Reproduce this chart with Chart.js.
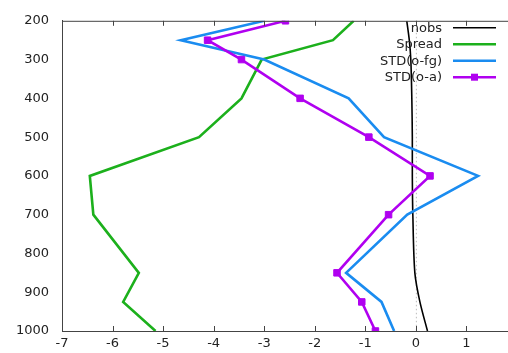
<!DOCTYPE html>
<html>
<head>
<meta charset="utf-8">
<script src="https://cdn.jsdelivr.net/npm/chart.js@4/dist/chart.umd.min.js"></script>
<style>
  body { margin: 0; background: #fff; overflow: hidden; }
  #wrap { width: 508px; height: 353px; overflow: hidden; }
</style>
</head>
<body>
<div id="wrap"><canvas id="profile" width="516" height="353"></canvas></div>
<script>
// pressure levels (hPa)
const levels = [200, 250, 300, 400, 500, 600, 700, 850, 925, 1000];
const nobs = [-0.18, -0.13, -0.1, -0.08, -0.07, -0.07, -0.06, -0.02, 0.08, 0.23];
const spread = [-1.23, -1.64, -3.05, -3.45, -4.29, -6.45, -6.38, -5.48, -5.79, -5.15];
const stdOfg = [-3.0, -4.65, -3.0, -1.33, -0.63, 1.23, -0.17, -1.38, -0.68, -0.43];
const stdOa = [-2.58, -4.12, -3.45, -2.29, -0.93, 0.28, -0.54, -1.56, -1.07, -0.8];
const xTicks = [-7, -6, -5, -4, -3, -2, -1, 0, 1];

const FONT = "DejaVu Sans";

function pts(vals) {
  return vals.map((v, i) => ({ x: v, y: levels[i] }));
}

// zero line, inward ticks, top border and gnuplot-like legend
const frame = {
  id: "frame",
  beforeDatasetsDraw(chart) {
    const { ctx, chartArea: a, scales } = chart;
    const x0 = scales.x.getPixelForValue(0);
    ctx.save();
    ctx.strokeStyle = "#bbbbbb";
    ctx.lineWidth = 1;
    ctx.setLineDash([1.5, 2.5]);
    ctx.beginPath();
    ctx.moveTo(x0 + 0.5, a.top);
    ctx.lineTo(x0 + 0.5, a.bottom);
    ctx.stroke();
    ctx.restore();
  },
  afterDatasetsDraw(chart) {
    const { ctx, chartArea: a, scales } = chart;
    ctx.save();
    ctx.strokeStyle = "#444";
    ctx.lineWidth = 1;
    ctx.beginPath();
    ctx.moveTo(a.left, a.top + 0.5);
    ctx.lineTo(chart.width, a.top + 0.5);
    xTicks.forEach((t) => {
      const px = Math.round(scales.x.getPixelForValue(t)) + 0.5;
      ctx.moveTo(px, a.top);
      ctx.lineTo(px, a.top + 5);
      ctx.moveTo(px, a.bottom);
      ctx.lineTo(px, a.bottom - 5);
    });
    ctx.stroke();

    // legend
    const rows = [27.7, 44.2, 60.7, 77.2];
    ctx.font = "13px " + FONT;
    ctx.textAlign = "right";
    ctx.textBaseline = "middle";
    chart.data.datasets.forEach((ds, i) => {
      const y = rows[i];
      ctx.fillStyle = "#222";
      ctx.fillText(ds.label, 442, y + 0.5);
      ctx.strokeStyle = ds.borderColor;
      ctx.lineWidth = ds.borderWidth;
      ctx.beginPath();
      ctx.moveTo(453, y);
      ctx.lineTo(496, y);
      ctx.stroke();
      if (ds.pointRadius > 0) {
        ctx.fillStyle = ds.borderColor;
        ctx.fillRect(474.5 - 3.5, y - 3.5, 7, 7);
      }
    });
    ctx.restore();
  },
};

const lineDefaults = { fill: false, tension: 0, pointRadius: 0, pointHoverRadius: 0 };

new Chart(document.getElementById("profile"), {
  type: "line",
  data: {
    datasets: [
      { ...lineDefaults, label: "nobs", data: pts(nobs), borderColor: "#000000", borderWidth: 1.6, order: 3, tension: 0.3 },
      { ...lineDefaults, label: "Spread", data: pts(spread), borderColor: "#1cb01c", borderWidth: 2.6, order: 2 },
      { ...lineDefaults, label: "STD(o-fg)", data: pts(stdOfg), borderColor: "#1a8cf0", borderWidth: 2.6, order: 1 },
      {
        ...lineDefaults, label: "STD(o-a)", data: pts(stdOa), borderColor: "#b000f0", borderWidth: 2.6, order: 0,
        pointRadius: 4.6, pointStyle: "rect", pointBackgroundColor: "#b000f0", pointBorderColor: "#b000f0", pointBorderWidth: 1,
      },
    ],
  },
  options: {
    responsive: false,
    animation: false,
    layout: { padding: { top: 16, right: 0, left: 0, bottom: 0 } },
    plugins: { legend: { display: false }, tooltip: { enabled: false }, title: { display: false } },
    scales: {
      x: {
        type: "linear",
        min: -7,
        max: 1.87,
        afterFit: (s) => { s.height = 22; },
        afterBuildTicks: (s) => { s.ticks = xTicks.map((v) => ({ value: v })); },
        grid: { display: false, drawTicks: false },
        border: { display: true, color: "#444", width: 1 },
        ticks: { color: "#222", padding: 5, font: { family: FONT, size: 13 }, includeBounds: false, callback: (v) => String(v) },
      },
      y: {
        type: "linear",
        reverse: true,
        min: 200,
        max: 1000,
        afterFit: (s) => { s.width = 62; },
        grid: { display: false, drawTicks: false },
        border: { display: true, color: "#444", width: 1 },
        ticks: { stepSize: 100, color: "#222", padding: 13, font: { family: FONT, size: 13 }, callback: (v) => String(v) },
      },
    },
  },
  plugins: [frame],
});
</script>
</body>
</html>
